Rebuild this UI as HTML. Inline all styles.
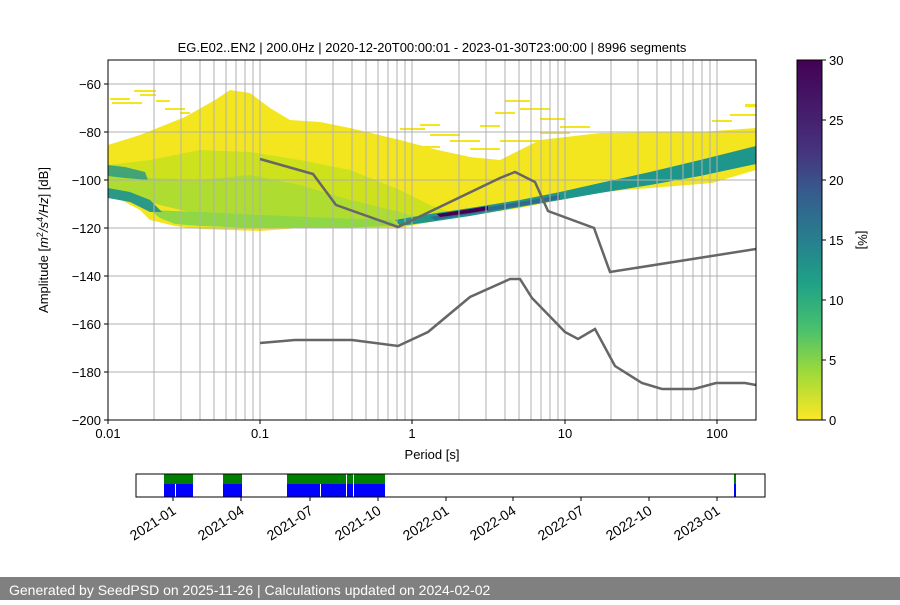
<!DOCTYPE html>
<html><head><meta charset="utf-8"><style>
body{margin:0;width:900px;height:600px;background:#fff;overflow:hidden;font-family:"Liberation Sans",sans-serif}
</style></head><body>
<svg width="900" height="600" xmlns="http://www.w3.org/2000/svg" font-family="Liberation Sans, sans-serif" font-size="13">
<defs>
<linearGradient id="cb" x1="0" y1="1" x2="0" y2="0">
<stop offset="0" stop-color="#fde725"/><stop offset="0.13" stop-color="#a0da39"/><stop offset="0.25" stop-color="#4ac16d"/><stop offset="0.38" stop-color="#1fa187"/><stop offset="0.5" stop-color="#277f8e"/><stop offset="0.63" stop-color="#365c8d"/><stop offset="0.75" stop-color="#46327e"/><stop offset="1" stop-color="#440154"/>
</linearGradient>
<clipPath id="ax"><rect x="108" y="60" width="648" height="360"/></clipPath>
</defs>
<text x="432" y="52" text-anchor="middle" font-size="13">EG.E02..EN2 | 200.0Hz | 2020-12-20T00:00:01 - 2023-01-30T23:00:00 | 8996 segments</text>
<g clip-path="url(#ax)">
<g fill="#f4e61e">
<rect x="110" y="98" width="20" height="2"/><rect x="112" y="102" width="30" height="2"/><rect x="134" y="90" width="22" height="2"/><rect x="140" y="94" width="16" height="2"/><rect x="156" y="100" width="14" height="2"/><rect x="165" y="108" width="20" height="2"/><rect x="180" y="112" width="10" height="2"/>
<rect x="400" y="128" width="25" height="2"/><rect x="420" y="124" width="20" height="2"/><rect x="430" y="134" width="30" height="2"/><rect x="450" y="140" width="30" height="2"/><rect x="470" y="148" width="30" height="2"/><rect x="420" y="146" width="20" height="2"/>
<rect x="505" y="100" width="25" height="2"/><rect x="520" y="108" width="30" height="2"/><rect x="495" y="112" width="20" height="2"/><rect x="540" y="118" width="25" height="2"/><rect x="560" y="126" width="30" height="2"/><rect x="480" y="125" width="20" height="2"/><rect x="500" y="140" width="40" height="2"/><rect x="540" y="132" width="30" height="2"/>
<rect x="520" y="150" width="30" height="2"/><rect x="560" y="146" width="20" height="2"/>
<rect x="712" y="120" width="20" height="2"/><rect x="730" y="114" width="26" height="2"/><rect x="745" y="104" width="11" height="3"/>
</g>
<polygon fill="#f4e61e" points="108,145 140,135 185,117 215,100 230,90 250,93 270,108 290,120 320,122 350,128 400,140 438,150 470,157 500,160 540,140 600,133 700,132 756,128 756,170 712,183 600,192 520,208 440,220 400,228 300,228 260,231 200,229 175,226 150,220 140,210 108,193"/>
<polygon fill="#cde11d" points="108,165 150,160 200,150 250,152 300,160 350,170 400,190 430,205 450,212 410,222 380,224 300,222 200,215 160,205 130,195 108,190"/>
<polygon fill="#a6db36" opacity="0.8" points="108,172 150,178 200,180 250,175 300,185 350,200 400,212 420,218 380,224 300,222 200,214 160,205 108,190"/>
<polygon fill="#8fd744" points="150,210 200,212 260,215 330,218 390,220 400,226 330,228 260,228 200,226 175,224 160,218"/>
<polygon fill="#2a9a86" opacity="0.85" points="108,165 125,167 145,172 148,180 125,178 108,176"/>
<polygon fill="#2a9a86" points="108,188 130,192 150,200 162,212 150,212 130,202 108,198"/>
<polygon fill="#1f968b" points="395,220 430,214 470,208 520,200 560,192 600,183 650,172 700,160 756,146 756,164 700,176 650,185 600,193 560,200 520,207 470,216 430,222 400,226"/>
<polygon fill="#31688e" points="430,217 470,210 520,202 560,195 560,199 520,206 470,214 435,220"/>
<polygon fill="#440154" points="437,214 470,209 488,206 488,210 470,213 440,217"/>
</g>
<g stroke="#b0b0b0" stroke-width="1">
<line x1="108" y1="84" x2="756" y2="84"/><line x1="108" y1="132" x2="756" y2="132"/><line x1="108" y1="180" x2="756" y2="180"/><line x1="108" y1="228" x2="756" y2="228"/><line x1="108" y1="276" x2="756" y2="276"/><line x1="108" y1="324" x2="756" y2="324"/><line x1="108" y1="372" x2="756" y2="372"/>
<g id="dec"><line x1="154" y1="60" x2="154" y2="420"/><line x1="181" y1="60" x2="181" y2="420"/><line x1="200" y1="60" x2="200" y2="420"/><line x1="214" y1="60" x2="214" y2="420"/><line x1="226" y1="60" x2="226" y2="420"/><line x1="236" y1="60" x2="236" y2="420"/><line x1="245" y1="60" x2="245" y2="420"/><line x1="253" y1="60" x2="253" y2="420"/><line x1="260" y1="60" x2="260" y2="420"/></g>
<use href="#dec" x="152"/><use href="#dec" x="305"/><use href="#dec" x="457"/>
</g>
<g fill="none" stroke="#666" stroke-width="2.5" clip-path="url(#ax)">
<polyline points="260,159 313,174 336,205 398,227 500,178 515,172 535,182 548,211 594,228 610,272 756,249"/>
<polyline points="260,343 295,340 352,340 398,346 428,332 470,297 510,279 520,279 532,298 565,332 578,339 595,329 615,366 642,383 662,389 694,389 716,383 745,383 756,385"/>
</g>
<rect x="108" y="60" width="648" height="360" fill="none" stroke="#000" stroke-width="1"/>
<g text-anchor="end" font-size="13">
<g stroke="#000"><line x1="104" y1="84" x2="108" y2="84"/><line x1="104" y1="132" x2="108" y2="132"/><line x1="104" y1="180" x2="108" y2="180"/><line x1="104" y1="228" x2="108" y2="228"/><line x1="104" y1="276" x2="108" y2="276"/><line x1="104" y1="324" x2="108" y2="324"/><line x1="104" y1="372" x2="108" y2="372"/><line x1="104" y1="420" x2="108" y2="420"/></g>
<text x="101" y="89">−60</text><text x="101" y="137">−80</text><text x="101" y="185">−100</text><text x="101" y="233">−120</text><text x="101" y="281">−140</text><text x="101" y="329">−160</text><text x="101" y="377">−180</text><text x="101" y="425">−200</text>
</g>
<g text-anchor="middle"><g stroke="#000"><line x1="108" y1="420" x2="108" y2="424"/><line x1="260" y1="420" x2="260" y2="424"/><line x1="412" y1="420" x2="412" y2="424"/><line x1="565" y1="420" x2="565" y2="424"/><line x1="717" y1="420" x2="717" y2="424"/></g>
<text x="108" y="438">0.01</text><text x="260" y="438">0.1</text><text x="412" y="438">1</text><text x="565" y="438">10</text><text x="717" y="438">100</text>
<text x="432" y="459">Period [s]</text></g>
<text transform="translate(48,240) rotate(-90)" text-anchor="middle">Amplitude [<tspan font-style="italic">m</tspan><tspan font-size="9" dy="-5">2</tspan><tspan dy="5" font-style="italic">/s</tspan><tspan font-size="9" dy="-5">4</tspan><tspan dy="5" font-style="italic">/Hz</tspan>] [dB]</text>
<rect x="797" y="60" width="25" height="360" fill="url(#cb)" stroke="#000" stroke-width="1"/>
<g stroke="#000"><line x1="822" y1="60" x2="826" y2="60"/><line x1="822" y1="120" x2="826" y2="120"/><line x1="822" y1="180" x2="826" y2="180"/><line x1="822" y1="240" x2="826" y2="240"/><line x1="822" y1="300" x2="826" y2="300"/><line x1="822" y1="360" x2="826" y2="360"/><line x1="822" y1="420" x2="826" y2="420"/></g>
<text x="829" y="65">30</text><text x="829" y="125">25</text><text x="829" y="185">20</text><text x="829" y="245">15</text><text x="829" y="305">10</text><text x="829" y="365">5</text><text x="829" y="425">0</text>
<text transform="translate(858,240) rotate(90)" text-anchor="middle">[%]</text>
<g>
<rect x="164" y="474" width="29" height="10" fill="#008000"/><rect x="164" y="484" width="29" height="13" fill="#0000ff"/>
<rect x="223" y="474" width="19" height="10" fill="#008000"/><rect x="223" y="484" width="19" height="13" fill="#0000ff"/>
<rect x="287" y="474" width="98" height="10" fill="#008000"/><rect x="287" y="484" width="98" height="13" fill="#0000ff"/>
<rect x="734" y="474" width="2" height="10" fill="#008000"/><rect x="734" y="484" width="2" height="13" fill="#0000ff"/>
<g stroke="#fff" stroke-width="1"><line x1="175.5" y1="484" x2="175.5" y2="497"/><line x1="320.5" y1="484" x2="320.5" y2="497"/><line x1="346.5" y1="474" x2="346.5" y2="497"/><line x1="353.5" y1="474" x2="353.5" y2="497"/></g>
<rect x="136" y="474" width="629" height="23" fill="none" stroke="#000" stroke-width="1"/>
<g stroke="#000"><line x1="173" y1="497" x2="173" y2="501"/><line x1="241" y1="497" x2="241" y2="501"/><line x1="310" y1="497" x2="310" y2="501"/><line x1="378" y1="497" x2="378" y2="501"/><line x1="446" y1="497" x2="446" y2="501"/><line x1="513" y1="497" x2="513" y2="501"/><line x1="581" y1="497" x2="581" y2="501"/><line x1="649" y1="497" x2="649" y2="501"/><line x1="717" y1="497" x2="717" y2="501"/></g>
<g text-anchor="end" font-size="14">
<text transform="translate(177,513) rotate(-33)">2021-01</text><text transform="translate(245,513) rotate(-33)">2021-04</text><text transform="translate(314,513) rotate(-33)">2021-07</text><text transform="translate(382,513) rotate(-33)">2021-10</text><text transform="translate(450,513) rotate(-33)">2022-01</text><text transform="translate(517,513) rotate(-33)">2022-04</text><text transform="translate(585,513) rotate(-33)">2022-07</text><text transform="translate(653,513) rotate(-33)">2022-10</text><text transform="translate(721,513) rotate(-33)">2023-01</text>
</g></g>
<rect x="0" y="577" width="900" height="23" fill="#808080"/>
<text x="9" y="595" fill="#fff" font-size="14">Generated by SeedPSD on 2025-11-26 | Calculations updated on 2024-02-02</text>
</svg>
</body></html>
